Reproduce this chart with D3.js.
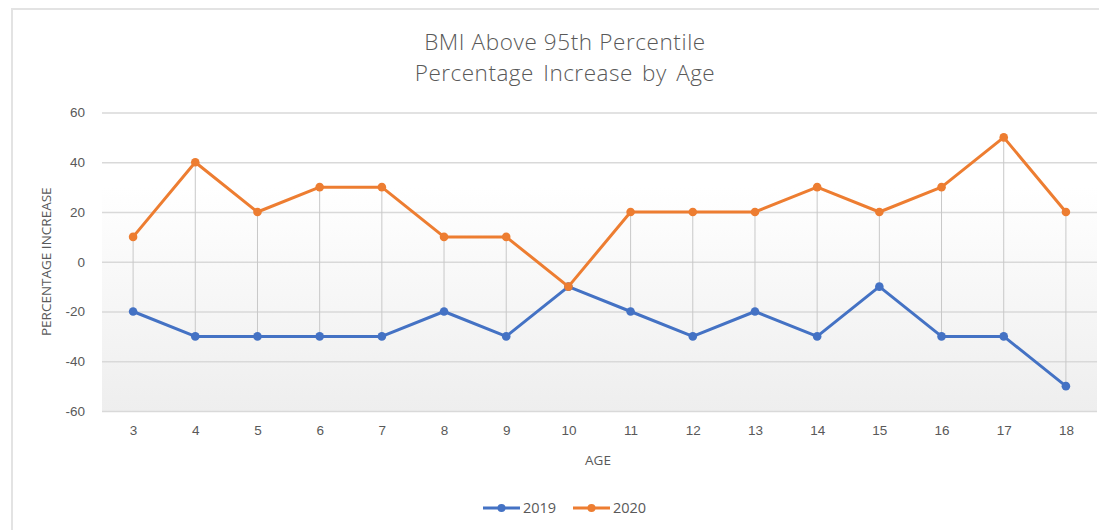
<!DOCTYPE html>
<html>
<head>
<meta charset="utf-8">
<script src="https://cdn.jsdelivr.net/npm/d3@7"></script>
<style>
  body { margin: 0; background: #fff; }
  svg { display: block; font-family: "Open Sans", sans-serif; }
</style>
</head>
<body>
<div class="linechart"></div>
<script>
// ages on the x axis
const ages = ["3", "4", "5", "6", "7", "8", "9", "10", "11", "12", "13", "14", "15", "16", "17", "18"];
const values2019 = [-20, -30, -30, -30, -30, -20, -30, -10, -20, -30, -20, -30, -10, -30, -30, -50];
const values2020 = [10, 40, 20, 30, 30, 10, 10, -10, 20, 20, 20, 30, 20, 30, 50, 20];
const yTicks = [-60, -40, -20, 0, 20, 40, 60];
const seriesNames = ["2019", "2020"];
const colors = ["#4472C4", "#ED7D31"];

const W = 1099, H = 530;
const plot = { left: 102, right: 1097, top: 112.5, bottom: 411 };

const svg = d3.select(".linechart").append("svg")
  .attr("width", W).attr("height", H);

// plot background gradient
const defs = svg.append("defs");
const grad = defs.append("linearGradient").attr("id", "bg")
  .attr("x1", 0).attr("y1", 0).attr("x2", 0).attr("y2", 1);
grad.append("stop").attr("offset", "25%").attr("stop-color", "#ffffff");
grad.append("stop").attr("offset", "100%").attr("stop-color", "#eeeeee");

// outer chart border
svg.append("rect")
  .attr("x", 12).attr("y", 9)
  .attr("width", W + 20).attr("height", H + 20)
  .attr("fill", "#fff")
  .attr("stroke", "#e3e3e3").attr("stroke-width", 2);

let x = d3.scalePoint().domain(ages).range([plot.left, plot.right]).padding(0.5);
let y = d3.scaleLinear().domain([-60, 60]).range([plot.bottom, plot.top]);

svg.append("rect")
  .attr("x", plot.left).attr("y", plot.top)
  .attr("width", plot.right - plot.left).attr("height", plot.bottom - plot.top)
  .attr("fill", "url(#bg)");

// gridlines + y tick labels (plain hyphen like the original)
const yAxis = d3.axisLeft(y).tickValues(yTicks)
  .tickFormat(d => String(d))
  .tickSize(-(plot.right - plot.left)).tickPadding(17);
svg.append("g")
  .attr("class", "y-axis")
  .attr("transform", `translate(${plot.left},0)`)
  .call(yAxis)
  .call(g => g.select(".domain").remove())
  .call(g => g.selectAll(".tick line").attr("stroke", "#d9d9d9").attr("stroke-width", 1.3))
  .call(g => g.selectAll(".tick text").attr("fill", "#595959").style("font-size", "13.5px"));

// x tick labels
const xAxis = d3.axisBottom(x).tickSize(0).tickPadding(14);
svg.append("g")
  .attr("class", "x-axis")
  .attr("transform", `translate(0,${plot.bottom})`)
  .call(xAxis)
  .call(g => g.select(".domain").remove())
  .call(g => g.selectAll(".tick text").attr("fill", "#595959").style("font-size", "13.5px"));

// high-low lines between the two series
svg.append("g").selectAll("line")
  .data(ages)
  .join("line")
  .attr("x1", d => x(d)).attr("x2", d => x(d))
  .attr("y1", (d, i) => y(Math.max(values2019[i], values2020[i])))
  .attr("y2", (d, i) => y(Math.min(values2019[i], values2020[i])))
  .attr("stroke", "#c8c8c8").attr("stroke-width", 1);

const line = d3.line().x((d, i) => x(ages[i])).y(d => y(d));
[values2019, values2020].forEach((vals, k) => {
  svg.append("path")
    .datum(vals)
    .attr("d", line)
    .attr("fill", "none")
    .attr("stroke", colors[k])
    .attr("stroke-width", 3)
    .attr("stroke-linejoin", "round");
  svg.append("g").selectAll("circle")
    .data(vals)
    .join("circle")
    .attr("cx", (d, i) => x(ages[i]))
    .attr("cy", d => y(d))
    .attr("r", 4.3)
    .attr("fill", colors[k]);
});

// titles
svg.append("text")
  .attr("x", 565).attr("y", 50)
  .attr("text-anchor", "middle")
  .attr("fill", "#595959")
  .style("font-size", "22.5px")
  .style("font-weight", 300)
  .style("letter-spacing", "0.6px")
  .text("BMI Above 95th Percentile");
svg.append("text")
  .attr("x", 565).attr("y", 81)
  .attr("text-anchor", "middle")
  .attr("fill", "#595959")
  .style("font-size", "22.5px")
  .style("font-weight", 300)
  .style("letter-spacing", "0.5px")
  .style("word-spacing", "3px")
  .text("Percentage Increase by Age");

svg.append("text")
  .attr("transform", "rotate(-90)")
  .attr("x", -(plot.top + plot.bottom) / 2).attr("y", 51)
  .attr("text-anchor", "middle")
  .attr("fill", "#595959")
  .style("font-size", "13.5px")
  .text("PERCENTAGE INCREASE");

svg.append("text")
  .attr("x", 598).attr("y", 465)
  .attr("text-anchor", "middle")
  .attr("fill", "#595959")
  .style("font-size", "13.5px")
  .text("AGE");

// legend
const legend = svg.append("g").attr("transform", "translate(483,508)");
seriesNames.forEach((name, k) => {
  const g = legend.append("g").attr("transform", `translate(${k * 90},0)`);
  g.append("line").attr("x1", 0).attr("x2", 37).attr("y1", 0).attr("y2", 0)
    .attr("stroke", colors[k]).attr("stroke-width", 3);
  g.append("circle").attr("cx", 18.5).attr("cy", 0).attr("r", 4).attr("fill", colors[k]);
  g.append("text").attr("x", 40).attr("y", 5)
    .attr("fill", "#595959").style("font-size", "14.5px").text(name);
});
</script>
</body>
</html>
